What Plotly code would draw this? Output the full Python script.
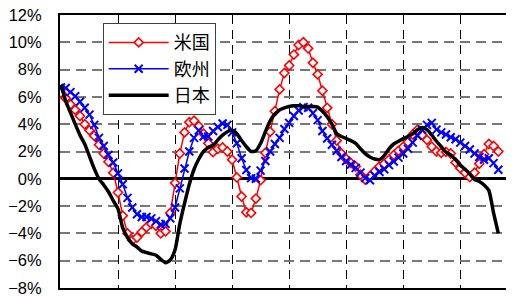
import plotly.graph_objects as go

# month index (monthly data, ~93 months); year gridlines every 12 months
month_index = list(range(93))
year_ticks = [12, 24, 36, 48, 60, 72, 84]
y_ticks = [-8, -6, -4, -2, 0, 2, 4, 6, 8, 10, 12]
y_tick_labels = ["−8%", "−6%", "−4%", "−2%", "0%", "2%", "4%", "6%", "8%", "10%", "12%"]

us = [6.3, 5.9, 5.45, 5.05, 4.6, 4.0, 3.55, 3.15, 2.5, 1.85,
      1.25, 0.45, -1.0, -2.7, -4.0, -4.5, -4.3, -3.9, -3.55, -3.3,
      -3.45, -4.0, -3.85, -2.5, -0.3, 1.85, 3.4, 4.15, 4.25, 3.85,
      3.3, 2.6, 1.95, 2.2, 2.3, 2.0, 1.4, 0.1, -1.3, -2.45,
      -2.5, -1.45, -0.1, 1.9, 3.45, 4.95, 6.55, 7.75, 8.3, 9.1,
      9.8, 10.0, 9.55, 8.5, 7.65, 6.45, 5.2, 4.0, 2.8, 1.85,
      1.45, 1.15, 0.9, 0.3, -0.05, 0.2, 0.55, 0.9, 1.1, 1.4,
      1.75, 2.05, 2.35, 2.7, 3.25, 3.6, 3.2, 2.85, 2.35, 2.0,
      1.9, 1.97, 1.85, 1.2, 0.78, 0.45, 0.12, 0.45, 1.1, 1.8,
      2.55, 2.4, 2.0]

eu = [6.7, 6.65, 6.35, 6.05, 5.65, 5.2, 4.7, 3.95, 3.0, 2.4,
      1.75, 1.2, 0.4, -0.4, -1.4, -2.1, -2.6, -2.8, -2.8, -2.9,
      -3.1, -3.35, -3.3, -2.9, -2.1, -0.7, 0.75, 2.0, 3.0, 3.55,
      3.1, 3.1, 3.5, 3.8, 4.05, 3.95, 3.4, 2.6, 1.5, 0.65,
      0.05, 0.0, 0.6, 1.3, 2.0, 2.55, 3.0, 3.65, 4.1, 4.6,
      5.0, 5.25, 5.2, 4.8, 4.3, 3.5, 2.95, 2.5, 2.05, 1.6,
      1.3, 1.05, 0.8, 0.45, 0.05, -0.1, 0.25, 0.5, 0.7, 1.0,
      1.27, 1.55, 1.85, 2.2, 2.65, 3.15, 3.6, 3.95, 4.1, 3.6,
      3.4, 3.25, 3.05, 2.9, 2.65, 2.4, 2.15, 1.85, 1.6, 1.4,
      1.5, 1.15, 0.66]

jp = [6.9, 5.7, 4.85, 4.0, 3.2, 2.55, 1.65, 0.75, 0.0, -0.45,
      -0.95, -1.6, -2.2, -3.6, -4.3, -4.75, -5.0, -5.3, -5.4, -5.5,
      -5.6, -5.9, -6.15, -5.95, -5.2, -3.3, -1.8, -0.4, 0.7, 1.45,
      2.0, 2.3, 2.45, 2.85, 3.2, 3.45, 3.55, 3.3, 2.8, 2.35,
      2.0, 2.05, 2.6, 3.45, 4.25, 4.75, 5.05, 5.2, 5.3, 5.35,
      5.35, 5.3, 5.3, 5.3, 5.25, 4.95, 4.55, 4.0, 3.3, 3.1,
      2.95, 2.8, 2.6, 2.2, 1.85, 1.6, 1.45, 1.4, 1.7, 2.2,
      2.55, 2.75, 2.95, 3.1, 3.3, 3.6, 3.75, 3.6, 3.2, 2.75,
      2.35, 1.95, 1.75, 1.4, 1.0, 0.7, 0.35, -0.05, -0.2, -0.45,
      -0.85, -2.5, -4.0]

fig = go.Figure()
fig.add_trace(go.Scatter(
    x=month_index, y=us, name="米国", mode="lines+markers",
    line=dict(color="#ff0000", width=1.5),
    marker=dict(symbol="diamond", size=7, color="white",
                line=dict(color="#ff0000", width=1.6)),
))
fig.add_trace(go.Scatter(
    x=month_index, y=eu, name="欧州", mode="lines+markers",
    line=dict(color="#0000ff", width=1.5),
    marker=dict(symbol="x-thin", size=8,
                line=dict(color="#0000ff", width=2)),
))
fig.add_trace(go.Scatter(
    x=month_index, y=jp, name="日本", mode="lines",
    line=dict(color="#000000", width=3.5, shape="spline", smoothing=0.6),
))

# the page body adds an 8px offset, so margins compensate for it
fig.update_layout(
    width=514, height=297,
    margin=dict(l=52, r=8, t=7, b=17, autoexpand=False),
    paper_bgcolor="white", plot_bgcolor="white",
    font=dict(family="Liberation Sans, Arial", color="black"),
    showlegend=True,
    legend=dict(
        x=0.094, y=0.97, xanchor="left", yanchor="top",
        bgcolor="white", bordercolor="#404040", borderwidth=1,
        font=dict(family="Noto Sans CJK JP", size=18, color="black"),
        itemwidth=60, tracegroupgap=0,
    ),
    annotations=[dict(
        text="【前年比3カ月移動平均】", xref="paper", yref="paper",
        x=-0.13, y=1.008, xanchor="left", yanchor="bottom", showarrow=False,
        font=dict(family="Noto Sans CJK JP", size=19, color="black"),
    )],
)

fig.update_xaxes(
    range=[-0.2, 95.3], tickvals=year_ticks, showticklabels=False, ticks="",
    showgrid=True, gridcolor="black", gridwidth=1, griddash="9px,6px",
    showline=True, linecolor="black", linewidth=2, mirror=True,
    zeroline=False,
)
fig.update_yaxes(
    range=[-8, 12], tickvals=y_ticks, ticktext=y_tick_labels,
    tickfont=dict(size=16.5, family="Liberation Sans, Arial"),
    ticks="", ticklabelstandoff=13, ticklabeloverflow="allow", automargin=False,
    showgrid=True, gridcolor="#777777", gridwidth=1.5, griddash="10px,6px",
    showline=True, linecolor="black", linewidth=2, mirror=False,
    zeroline=True, zerolinecolor="black", zerolinewidth=3,
)

fig.write_html("out.html")
